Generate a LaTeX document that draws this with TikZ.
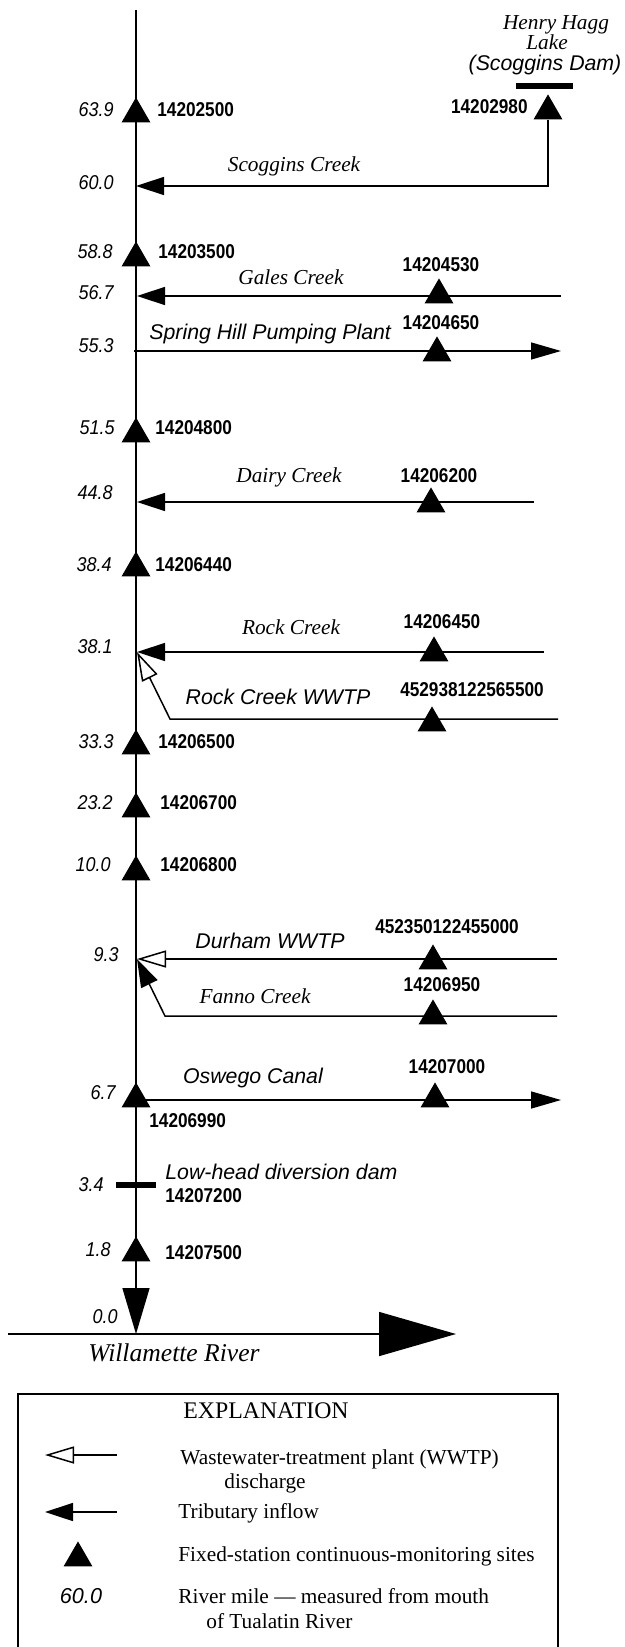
\documentclass[tikz,border=0pt]{standalone}
\usepackage{fontspec}
\setmainfont{Liberation Serif}
\newfontfamily\stnfont[FakeStretch=0.86]{Liberation Sans}
\newfontfamily\milefont[FakeStretch=0.9]{Liberation Sans}
\newfontfamily\labfont{Liberation Sans}
\usetikzlibrary{arrows.meta,shapes.geometric}
\tikzset{
    site/.style =   {regular polygon,
                    regular polygon sides=3,
                    fill=black,
                    draw=none,
                    inner sep=0pt,
                    minimum size=16.6pt},
    mile/.style =   {anchor=east,
                    inner sep=0pt,
                    text height=1.4ex,
                    text depth=0pt,
                    font=\milefont\itshape\fontsize{10pt}{12pt}\selectfont},
    stn/.style =    {inner sep=0pt,
                    text height=1.4ex,
                    text depth=0pt,
                    font=\stnfont\bfseries\fontsize{10pt}{12pt}\selectfont},
    creek/.style =  {inner sep=0pt,
                    text height=1.4ex,
                    text depth=0pt,
                    font=\itshape\fontsize{10.65pt}{12pt}\selectfont},
    works/.style =  {inner sep=0pt,
                    text height=1.4ex,
                    text depth=0pt,
                    font=\labfont\itshape\fontsize{10.65pt}{12pt}\selectfont},
    expl/.style =   {anchor=west,
                    inner sep=0pt,
                    text height=1.4ex,
                    text depth=0pt,
                    font=\fontsize{10.65pt}{12pt}\selectfont},
    river/.style =  {line width=0.75pt},
    inflow/.style = {river, -{Triangle[length=14pt,width=9pt]}},
    wwtp/.style =   {river, -{Triangle[open,length=14.5pt,width=8.5pt,fill=white]}},
    outflow/.style = {river, -{Triangle[length=15pt,width=8.5pt]}},
    dam/.style =    {line width=2.6pt},
    -,
    draw=black}

\begin{document}
\begin{tikzpicture}[x=0.5pt, y=-0.5pt]
    \useasboundingbox (0,0) rectangle (625,1647);

    \coordinate (Top)   at (136,10);
    \coordinate (Mouth) at (136,1334);
    \coordinate (Wl)    at (8,1334);
    \coordinate (Wr)    at (456,1334);
    \coordinate (J600)  at (136,186);
    \coordinate (Sc)    at (548,186);
    \coordinate (J567)  at (137,296);
    \coordinate (Ga)    at (561,296);
    \coordinate (J553)  at (134,351);
    \coordinate (Sp)    at (561,351);
    \coordinate (J448)  at (137,502);
    \coordinate (Da)    at (534,502);
    \coordinate (J381)  at (137,652);
    \coordinate (Ro)    at (544,652);
    \coordinate (Rw)    at (558,719);
    \coordinate (Rb)    at (170,719);
    \coordinate (J93)   at (137,959);
    \coordinate (Du)    at (557,959);
    \coordinate (Fa)    at (557,1016);
    \coordinate (Fb)    at (165,1016);
    \coordinate (J67)   at (136,1100);
    \coordinate (Os)    at (561,1100);
    \coordinate (Dl)    at (116,1185);
    \coordinate (Dr)    at (156,1185);
    \coordinate (Hl)    at (516,86);
    \coordinate (Hr)    at (573,86);

    \draw [river, -{Triangle[length=23pt,width=13.5pt]}] (Top) -- (Mouth);
    \draw [river, -{Triangle[length=38.5pt,width=22pt]}] (Wl) -- (Wr);

    \node[site] (H)    at (548,111)  {};
    \draw [inflow] (H) -- (Sc) -- (J600);
    \path [inflow] (Ga) edge (J567)
                   (Da) edge (J448)
                   (Ro) edge (J381);
    \path [outflow] (J553) edge (Sp)
                    (J67)  edge (Os);
    \draw [wwtp]   (Rw) -- (Rb) -- (J381);
    \draw [wwtp]   (Du) -- (J93);
    \draw [inflow] (Fa) -- (Fb) -- (J93);
    \draw [dam]    (Dl) -- (Dr);
    \draw [dam]    (Hl) -- (Hr);

    \node[site] (M639) at (136,114)  {};
    \node[site] (M588) at (136,258)  {};
    \node[site] (M515) at (136,434)  {};
    \node[site] (M384) at (136,568)  {};
    \node[site] (M333) at (136,746)  {};
    \node[site] (M232) at (136,809)  {};
    \node[site] (M100) at (136,872)  {};
    \node[site] (M67)  at (136,1099) {};
    \node[site] (M18)  at (136,1253) {};
    \node[site] (TGa)  at (439,295)  {};
    \node[site] (TSp)  at (437,353)  {};
    \node[site] (TDa)  at (431,504)  {};
    \node[site] (TRo)  at (434,653)  {};
    \node[site] (TRw)  at (432,723)  {};
    \node[site] (TDu)  at (433,961)  {};
    \node[site] (TFa)  at (433,1016) {};
    \node[site] (TOs)  at (435,1099) {};

    \node[mile] (R639) at (114,110)  {63.9};
    \node[mile] (R600) at (114,183)  {60.0};
    \node[mile] (R588) at (113,252)  {58.8};
    \node[mile] (R567) at (114,293)  {56.7};
    \node[mile] (R553) at (114,346)  {55.3};
    \node[mile] (R515) at (115,428)  {51.5};
    \node[mile] (R448) at (113,493)  {44.8};
    \node[mile] (R384) at (112,565)  {38.4};
    \node[mile] (R381) at (113,647)  {38.1};
    \node[mile] (R333) at (114,742)  {33.3};
    \node[mile] (R232) at (113,803)  {23.2};
    \node[mile] (R100) at (111,865)  {10.0};
    \node[mile] (R93)  at (119,955)  {9.3};
    \node[mile] (R67)  at (116,1093) {6.7};
    \node[mile] (R34)  at (104,1185) {3.4};
    \node[mile] (R18)  at (111,1250) {1.8};
    \node[mile] (R00)  at (118,1317) {0.0};

    \node[stn, anchor=west] (N639) at (157,110)  {14202500};
    \node[stn, anchor=west] (N588) at (158,252)  {14203500};
    \node[stn, anchor=west] (N515) at (155,428)  {14204800};
    \node[stn, anchor=west] (N384) at (155,565)  {14206440};
    \node[stn, anchor=west] (N333) at (158,742)  {14206500};
    \node[stn, anchor=west] (N232) at (160,803)  {14206700};
    \node[stn, anchor=west] (N100) at (160,865)  {14206800};
    \node[stn, anchor=west] (N67)  at (149,1121) {14206990};
    \node[stn, anchor=west] (N34)  at (165,1196) {14207200};
    \node[stn, anchor=west] (N18)  at (165,1253) {14207500};
    \node[stn, anchor=east] (NH)   at (528,107)  {14202980};
    \node[stn] (NGa) at (441,265)  {14204530};
    \node[stn] (NSp) at (441,323)  {14204650};
    \node[stn] (NDa) at (439,476)  {14206200};
    \node[stn] (NRo) at (442,622)  {14206450};
    \node[stn] (NRw) at (472,690)  {452938122565500};
    \node[stn] (NDu) at (447,927)  {452350122455000};
    \node[stn] (NFa) at (442,985)  {14206950};
    \node[stn] (NOs) at (447,1067) {14207000};

    \node[creek] (LH1) at (556,23)   {Henry Hagg};
    \node[creek] (LH2) at (547,43)   {Lake};
    \node[works] (LH3) at (545,64)   {(Scoggins Dam)};
    \node[creek] (LSc) at (294,165)  {Scoggins Creek};
    \node[creek] (LGa) at (291,278)  {Gales Creek};
    \node[works, anchor=west] (LSp) at (149,333) {Spring Hill Pumping Plant};
    \node[creek] (LDa) at (289,476)  {Dairy Creek};
    \node[creek] (LRo) at (291,628)  {Rock Creek};
    \node[works] (LRw) at (278,698)  {Rock Creek WWTP};
    \node[works] (LDu) at (270,942)  {Durham WWTP};
    \node[creek] (LFa) at (255,997)  {Fanno Creek};
    \node[works] (LOs) at (253,1077) {Oswego Canal};
    \node[works, anchor=west] (LDm) at (165,1173) {Low-head diversion dam};
    \node[creek, font=\itshape\fontsize{12.8pt}{14pt}\selectfont] (LWi) at (174,1355) {Willamette River};

    \draw [river] (18,1647) -- (18,1394) -- (558,1394) -- (558,1647);
    \node[expl, anchor=center, font=\fontsize{11.9pt}{14pt}\selectfont] (E0) at (266,1412) {EXPLANATION};
    \coordinate (E1r) at (117,1455);
    \coordinate (E1l) at (45,1455);
    \coordinate (E2r) at (117,1512);
    \coordinate (E2l) at (45,1512);
    \draw [wwtp]   (E1r) -- (E1l);
    \draw [inflow] (E2r) -- (E2l);
    \node[site] (E3) at (78,1558) {};
    \node[works, font=\labfont\itshape\fontsize{10.8pt}{12pt}\selectfont] (E4) at (81,1597) {60.0};
    \node[expl] (T1a) at (180,1458) {Wastewater-treatment plant (WWTP)};
    \node[expl] (T1b) at (224,1482) {discharge};
    \node[expl] (T2)  at (178,1512) {Tributary inflow};
    \node[expl] (T3)  at (178,1555) {Fixed-station continuous-monitoring sites};
    \node[expl] (T4a) at (178,1597) {River mile --- measured from mouth};
    \node[expl] (T4b) at (206,1622) {of Tualatin River};
\end{tikzpicture}
\end{document}
